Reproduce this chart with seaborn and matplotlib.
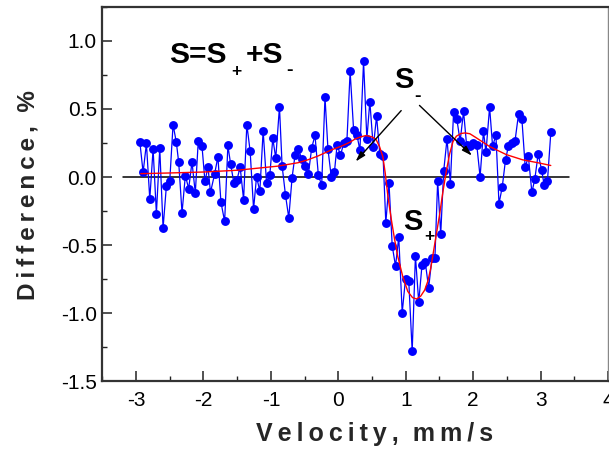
import matplotlib
matplotlib.use("Agg")
import matplotlib.pyplot as plt
import seaborn as sns
import numpy as np
import pandas as pd
from matplotlib.ticker import MultipleLocator

# ---------------- data ----------------
velocity = [
    -2.944, -2.895, -2.846, -2.796, -2.747, -2.698, -2.648, -2.599, -2.550, -2.500,
    -2.451, -2.402, -2.367, -2.318, -2.269, -2.219, -2.170, -2.121, -2.077, -2.022,
    -1.978, -1.933, -1.896, -1.834, -1.786, -1.741, -1.686, -1.638, -1.598, -1.549,
    -1.504, -1.456, -1.405, -1.357, -1.308, -1.257, -1.213, -1.164, -1.115, -1.065,
    -1.016, -0.972, -0.928, -0.873, -0.834, -0.784, -0.735, -0.686, -0.642, -0.592,
    -0.543, -0.494, -0.444, -0.395, -0.346, -0.296, -0.247, -0.198, -0.154, -0.104,
    -0.058, -0.018, 0.031, 0.081, 0.127, 0.175, 0.226, 0.275, 0.320, 0.374,
    0.423, 0.467, 0.518, 0.567, 0.615, 0.663, 0.704, 0.751, 0.799, 0.848,
    0.896, 0.947, 0.996, 1.044, 1.095, 1.143, 1.192, 1.240, 1.288, 1.339,
    1.388, 1.432, 1.473, 1.518, 1.562, 1.612, 1.661, 1.709, 1.757, 1.806,
    1.857, 1.902, 1.953, 2.004, 2.053, 2.102, 2.152, 2.189, 2.243, 2.287,
    2.337, 2.382, 2.430, 2.479, 2.522, 2.571, 2.620, 2.672, 2.722, 2.771,
    2.818, 2.870, 2.914, 2.963, 3.015, 3.052, 3.101, 3.151,
]
difference = [
    0.260, 0.034, 0.247, -0.162, 0.206, -0.268, 0.210, -0.375, -0.066, -0.029,
    0.385, 0.254, 0.107, -0.263, 0.010, -0.084, 0.110, -0.118, 0.267, 0.228,
    -0.032, 0.074, -0.113, 0.024, 0.149, -0.184, -0.326, 0.232, 0.098, -0.044,
    -0.022, 0.074, -0.167, 0.385, 0.191, -0.235, 0.002, -0.103, 0.340, -0.040,
    0.015, 0.284, 0.138, 0.515, 0.083, -0.132, -0.299, -0.005, 0.162, 0.206,
    0.132, 0.083, 0.022, 0.215, 0.306, 0.012, -0.059, 0.587, 0.206, -0.003,
    0.037, 0.239, 0.159, 0.250, 0.265, 0.776, 0.348, 0.311, 0.196, 0.850,
    0.279, 0.554, 0.218, 0.446, 0.171, 0.157, -0.338, -0.044, -0.505, -0.654,
    -0.441, -0.996, -0.746, -0.760, -1.279, -0.579, -0.919, -0.649, -0.621, -0.814,
    -0.596, -0.597, -0.027, -0.421, 0.043, 0.282, -0.049, 0.478, 0.426, 0.263,
    0.482, 0.234, 0.226, 0.252, 0.234, 0.002, 0.335, 0.182, 0.513, 0.228,
    0.306, -0.195, -0.075, 0.127, 0.228, 0.250, 0.265, 0.463, 0.426, 0.072,
    0.151, -0.113, -0.013, 0.169, 0.051, -0.060, -0.027, 0.328,
]

fit_velocity = [
    -2.93, -2.5, -2.0, -1.5, -1.2, -0.9, -0.6, -0.45, -0.3, -0.1,
    0.05, 0.17, 0.25, 0.33, 0.41, 0.5, 0.56, 0.61, 0.66, 0.695,
    0.735, 0.785, 0.835, 0.88, 0.955, 1.03, 1.1, 1.16, 1.22, 1.28,
    1.33, 1.37, 1.40, 1.45, 1.50, 1.55, 1.60, 1.65, 1.70, 1.75,
    1.82, 1.88, 1.95, 2.04, 2.24, 2.49, 2.73, 2.98, 3.15,
]
fit_difference = [
    0.025, 0.030, 0.037, 0.050, 0.065, 0.080, 0.105, 0.127, 0.155, 0.200,
    0.228, 0.255, 0.280, 0.295, 0.305, 0.295, 0.275, 0.225, 0.150, 0.030,
    -0.140, -0.310, -0.460, -0.580, -0.730, -0.840, -0.885, -0.895, -0.875, -0.830,
    -0.760, -0.670, -0.580, -0.430, -0.280, -0.110, 0.040, 0.170, 0.260, 0.300,
    0.320, 0.324, 0.318, 0.290, 0.225, 0.165, 0.127, 0.103, 0.085,
]

x_ticks = [-3, -2, -1, 0, 1, 2, 3, 4]
y_ticks = [-1.5, -1.0, -0.5, 0.0, 0.5, 1.0]
x_tick_labels = ["-3", "-2", "-1", "0", "1", "2", "3", "4"]
y_tick_labels = ["-1.5", "-1.0", "-0.5", "0.0", "0.5", "1.0"]

# ---------------- style ----------------
sns.set_style("ticks")
plt.rcParams["font.family"] = ["Liberation Sans", "DejaVu Sans"]
plt.rcParams["axes.unicode_minus"] = False

fig = plt.figure(figsize=(6.09, 4.54), dpi=100)
ax = fig.add_axes([0.168, 0.160, 0.8305, 0.825])

df = pd.DataFrame({"v": velocity, "d": difference})
fit = pd.DataFrame({"v": fit_velocity, "d": fit_difference})

# zero line
ax.plot([-3.195, 3.42], [0, 0], color="black", lw=1.1, zorder=1)

sns.lineplot(data=df, x="v", y="d", sort=False, ax=ax, color="#0000ff",
             lw=0.9, marker="o", markersize=6.4, markeredgewidth=0,
             markerfacecolor="#0000ff", zorder=2)
sns.lineplot(data=fit, x="v", y="d", sort=False, ax=ax, color="#ff0000",
             lw=1.0, zorder=3)

ax.set_xlim(-3.5, 4.0)
ax.set_ylim(-1.5, 1.25)
ax.set_xticks(x_ticks)
ax.set_xticklabels(x_tick_labels)
ax.set_yticks(y_ticks)
ax.set_yticklabels(y_tick_labels)
ax.xaxis.set_minor_locator(MultipleLocator(0.5))
ax.yaxis.set_minor_locator(MultipleLocator(0.25))
ax.tick_params(axis="both", which="major", direction="in", length=7, width=1.1,
               labelsize=15, color="#222222", labelcolor="black")
ax.tick_params(axis="both", which="minor", direction="in", length=3.5, width=1.0,
               color="#222222")
ax.tick_params(axis="x", which="major", pad=7)
ax.tick_params(axis="y", which="major", pad=4)

for side in ["left", "bottom", "top"]:
    ax.spines[side].set_color("#333333")
    ax.spines[side].set_linewidth(1.6)
ax.spines["right"].set_color("#888888")
ax.spines["right"].set_linewidth(1.0)

ts = "\u2009"
ax.set_xlabel(ts.join("Velocity,") + "  " + ts.join("mm/s"), fontsize=18,
              fontweight="bold")
ax.xaxis.set_label_coords(0.538, -0.108)
ax.set_ylabel(ts.join("Difference,") + "  %", fontsize=17.5,
              fontweight="bold")
ax.yaxis.set_label_coords(-0.124, 0.497)

# annotations
bold = dict(fontweight="bold", color="black")
ax.text(-2.51, 0.84, "S=S", fontsize=21.5, ha="left", va="baseline", **bold)
ax.text(-1.51, 0.776, "+", fontsize=12.5, ha="center", va="center", **bold)
ax.text(-1.37, 0.84, "+S", fontsize=21.5, ha="left", va="baseline", **bold)
ax.text(-0.72, 0.784, "-", fontsize=14, ha="center", va="center", **bold)

ax.text(0.833, 0.657, "S", fontsize=21, ha="left", va="baseline", **bold)
ax.text(1.18, 0.594, "-", fontsize=14, ha="center", va="center", **bold)

ax.text(0.955, -0.388, "S", fontsize=21, ha="left", va="baseline", **bold)
ax.text(1.35, -0.437, "+", fontsize=12.5, ha="center", va="center", **bold)

arrow_kw = dict(arrowstyle="-|>,head_length=0.6,head_width=0.18", color="black",
                lw=1.0, shrinkA=0, shrinkB=0)
ax.annotate("", xy=(0.256, 0.114), xytext=(0.932, 0.488), arrowprops=arrow_kw)
ax.annotate("", xy=(1.982, 0.157), xytext=(1.203, 0.526), arrowprops=arrow_kw)

fig.savefig("out.png", dpi=100)
